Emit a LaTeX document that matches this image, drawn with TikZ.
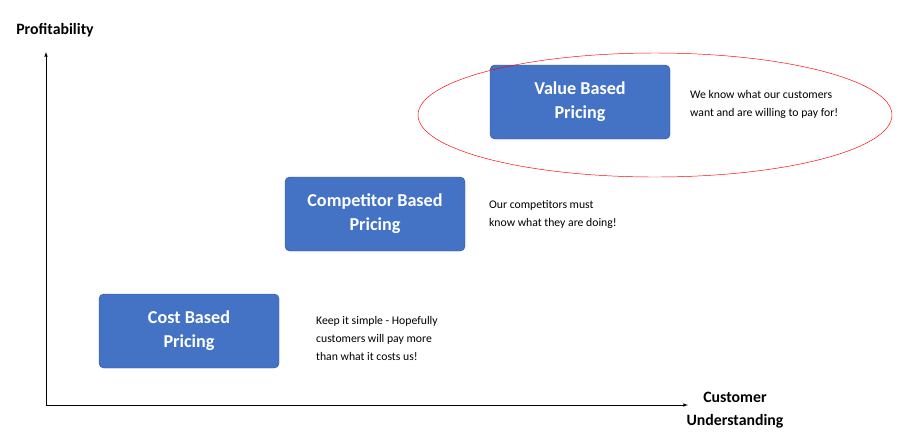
\documentclass[tikz,border=0pt]{standalone}
\usepackage{fontspec}
\setmainfont{Carlito}
\usetikzlibrary{positioning}
\definecolor{boxblue}{HTML}{4472C4}
\begin{document}
\begin{tikzpicture}[x=0.03cm,y=-0.03cm,
	pricebox/.style={draw=boxblue!80!black,fill=boxblue,rounded corners=4pt,minimum width=180*0.03cm,minimum height=74*0.03cm,text=white,font=\fontsize{15.5}{20.5}\selectfont\bfseries,align=center},
	note/.style={anchor=north west,align=left,font=\fontsize{10}{15.5}\selectfont},
	axislabel/.style={font=\fontsize{13.5}{20}\selectfont\bfseries,align=center}]
	\useasboundingbox (0,0) rectangle (902,434);

	% axes
	\coordinate (origin) at (46,405);
	\coordinate (ytop) at (46,52);
	\coordinate (xend) at (688,405);
	\draw[-latex] (origin) -- (ytop);
	\draw[-latex] (origin) -- (xend);
	\node[axislabel] (ylab) at (55,30) {Profitability};
	\node[axislabel] (xlab) at (735,410) {Customer\\Understanding};

	% pricing steps
	\node[pricebox] (cost) at (189,331) {Cost Based\\Pricing};
	\node[pricebox] (comp) at (375,214) {Competitor Based\\Pricing};
	\node[pricebox] (value) at (580,102) {Value Based\\Pricing};

	\node[note] (costnote) at (312,312) {Keep it simple - Hopefully\\customers will pay more\\than what it costs us!};
	\node[note] (compnote) at (485,196) {Our competitors must\\know what they are doing!};
	\node[note] (valuenote) at (686,86) {We know what our customers\\want and are willing to pay for!};

	\draw[red] (655,115) ellipse [x radius=237, y radius=62];
\end{tikzpicture}
\end{document}
